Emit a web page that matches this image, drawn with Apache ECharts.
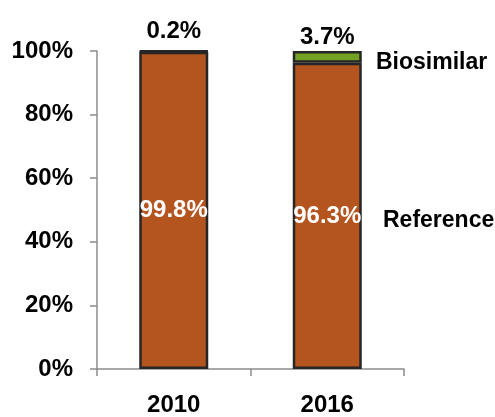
<!DOCTYPE html>
<html>
<head>
<meta charset="utf-8">
<script src="https://cdn.jsdelivr.net/npm/echarts@6/dist/echarts.min.js"></script>
<style>
  html, body { margin: 0; padding: 0; background: #fff; }
  #main { width: 495px; height: 417px; }
</style>
</head>
<body>
<div id="main"></div>
<script>
// data
const years = ['2010', '2016'];
const reference = [99.8, 96.3];
const biosimilar = [0.2, 3.7];
const yTicks = [0, 20, 40, 60, 80, 100];

const font = 'Arial, "Liberation Sans", sans-serif';
const axisGray = '#8c8c8c';

let myChart = echarts.init(document.getElementById('main'));
myChart.setOption({
  animation: false,
  grid: { left: 97, right: 91, top: 51, bottom: 44 },
  legend: [
    {
      data: ['Biosimilar'],
      left: 366, top: 46,
      icon: 'none', itemWidth: 0, itemHeight: 0,
      selectedMode: false,
      textStyle: { fontFamily: font, fontWeight: 'bold', fontSize: 23, color: '#000' }
    },
    {
      data: ['Reference'],
      left: 373, top: 204,
      icon: 'none', itemWidth: 0, itemHeight: 0,
      selectedMode: false,
      textStyle: { fontFamily: font, fontWeight: 'bold', fontSize: 23, color: '#000' }
    }
  ],
  xAxis: {
    type: 'category',
    data: years,
    axisLine: { lineStyle: { color: axisGray, width: 1.5 } },
    axisTick: { show: true, length: 7, lineStyle: { color: axisGray, width: 1.5 } },
    axisLabel: { margin: 24, fontFamily: font, fontWeight: 'bold', fontSize: 24, color: '#000' }
  },
  yAxis: {
    type: 'value',
    min: yTicks[0],
    max: yTicks[yTicks.length - 1],
    interval: yTicks[1] - yTicks[0],
    splitLine: { show: false },
    axisLine: { show: true, lineStyle: { color: axisGray, width: 1.5 } },
    axisTick: { show: true, length: 7, lineStyle: { color: axisGray, width: 1.5 } },
    axisLabel: {
      margin: 24, formatter: '{value}%',
      fontFamily: font, fontWeight: 'bold', fontSize: 24, color: '#000'
    }
  },
  series: [
    {
      name: 'Reference',
      type: 'bar',
      stack: 'total',
      barWidth: 69,
      data: reference,
      itemStyle: { color: '#b4541f', borderColor: '#262626', borderWidth: 2.5 },
      label: {
        show: true, position: 'inside', formatter: '{c}%',
        fontFamily: font, fontWeight: 'bold', fontSize: 24, color: '#fff'
      }
    },
    {
      name: 'Biosimilar',
      type: 'bar',
      stack: 'total',
      barWidth: 69,
      data: biosimilar.map((v, i) => ({
        value: v,
        label: { distance: i === 0 ? 7 : 2 }
      })),
      itemStyle: { color: '#74a024', borderColor: '#262626', borderWidth: 2.5 },
      label: {
        show: true, position: 'top', formatter: '{c}%',
        fontFamily: font, fontWeight: 'bold', fontSize: 24, color: '#000'
      }
    }
  ]
});
</script>
</body>
</html>
